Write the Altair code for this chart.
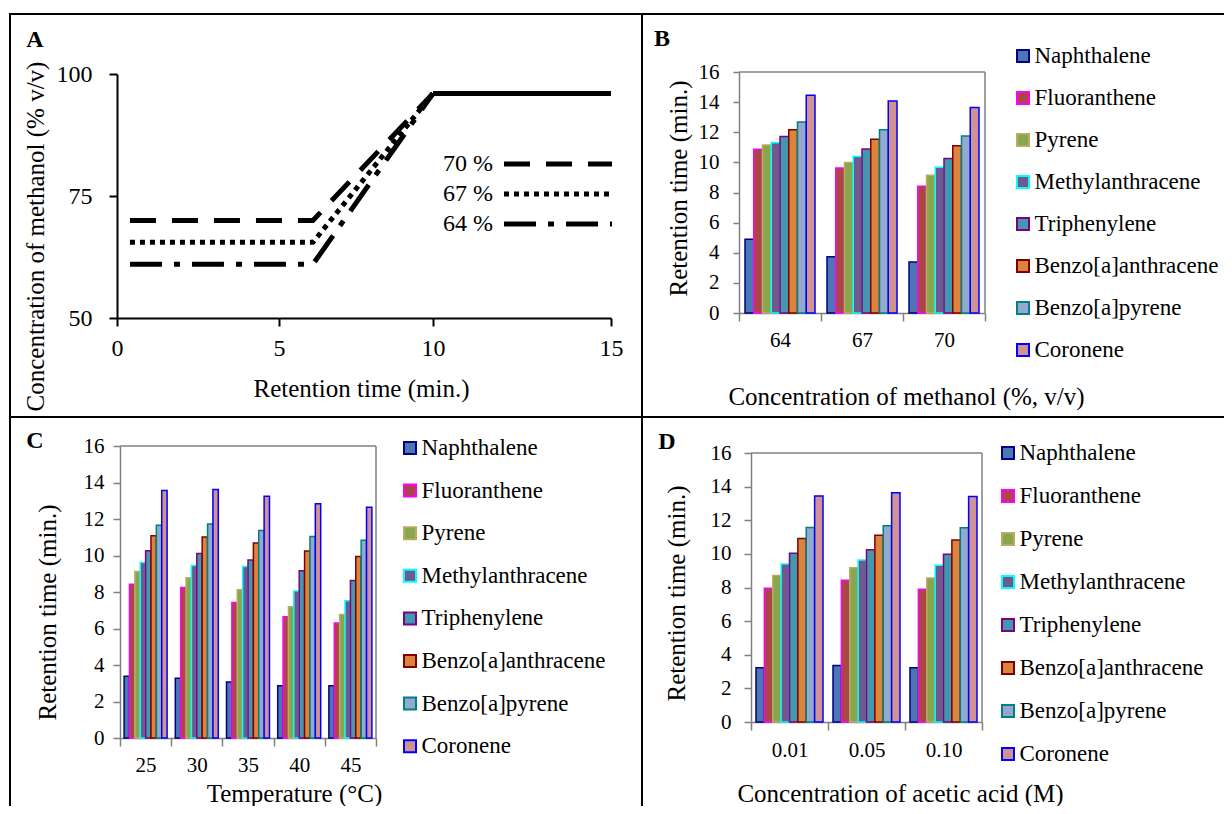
import altair as alt
import pandas as pd

FONT = "Liberation Serif"

# ---------------- Panel A : gradient programmes ----------------
series_a = ["70 %", "67 %", "64 %"]
time_70 = [0.4, 6.1, 10.0]
conc_70 = [70.0, 70.0, 96.0]
time_67 = [0.4, 6.1, 10.0]
conc_67 = [65.5, 65.5, 96.0]
time_64 = [0.4, 6.1, 10.0]
conc_64 = [61.0, 61.0, 96.0]
time_hold = [10.0, 15.0]
conc_hold = [96.0, 96.0]
a_x_ticks = [0, 5, 10, 15]
a_y_ticks = [50, 75, 100]

# ---------------- Panels B, C, D : retention times ----------------
compounds = ["Naphthalene", "Fluoranthene", "Pyrene", "Methylanthracene",
             "Triphenylene", "Benzo[a]anthracene", "Benzo[a]pyrene", "Coronene"]
fill_colors = ["#4A78B4", "#AA4643", "#89A54E", "#71588F",
               "#4198AF", "#DB843D", "#93A9CF", "#D19392"]
stroke_colors = ["#000080", "#FF00FF", "#B8AC60", "#00FFFF",
                 "#800080", "#800000", "#008080", "#0000FF"]
rt_ticks = [0, 2, 4, 6, 8, 10, 12, 14, 16]

methanol = ["64", "67", "70"]
b_64 = [4.89, 10.87, 11.16, 11.31, 11.71, 12.17, 12.68, 14.46]
b_67 = [3.74, 9.62, 9.99, 10.39, 10.89, 11.53, 12.17, 14.08]
b_70 = [3.39, 8.41, 9.15, 9.68, 10.26, 11.11, 11.75, 13.64]

temperature = ["25", "30", "35", "40", "45"]
c_25 = [3.38, 8.43, 9.12, 9.62, 10.26, 11.08, 11.66, 13.56]
c_30 = [3.27, 8.25, 8.78, 9.45, 10.11, 11.02, 11.72, 13.61]
c_35 = [3.07, 7.43, 8.12, 9.40, 9.76, 10.68, 11.37, 13.25]
c_40 = [2.86, 6.64, 7.19, 8.05, 9.16, 10.24, 11.04, 12.83]
c_45 = [2.86, 6.30, 6.77, 7.52, 8.63, 9.95, 10.84, 12.65]

acetic = ["0.01", "0.05", "0.10"]
d_001 = [3.22, 7.95, 8.71, 9.40, 10.04, 10.91, 11.57, 13.44]
d_005 = [3.36, 8.43, 9.17, 9.64, 10.24, 11.11, 11.67, 13.64]
d_010 = [3.22, 7.89, 8.57, 9.32, 9.98, 10.83, 11.55, 13.42]

ONE = alt.Data(values=[{}])


def deco(origin, box, lines):
    ox, oy = origin
    out = [alt.Chart(ONE).mark_rect(opacity=0).encode(
        x=alt.value(box[0] - ox), x2=alt.value(box[1] - ox),
        y=alt.value(box[2] - oy), y2=alt.value(box[3] - oy))]
    for x1, x2, y1, y2 in lines:
        out.append(alt.Chart(ONE).mark_rect(color="black").encode(
            x=alt.value(x1 - ox), x2=alt.value(x2 - ox),
            y=alt.value(y1 - oy), y2=alt.value(y2 - oy)))
    return out


def letter(ch, origin, pos):
    return alt.Chart(ONE).mark_text(
        font=FONT, fontSize=24, fontWeight="bold", color="black",
        align="center", baseline="middle").encode(
        x=alt.value(pos[0] - origin[0]), y=alt.value(pos[1] - origin[1]),
        text=alt.value(ch))


def bar_frame(conds, rows):
    recs = []
    for cond, vals in zip(conds, rows):
        for comp, v in zip(compounds, vals):
            recs.append({"cond": cond, "compound": comp, "rt": v})
    return pd.DataFrame(recs)


# ---------------- Panel A ----------------
A_O = (117, 72)
series_all = series_a + ["hold"]
line_df = pd.DataFrame({
    "t": time_70 + time_67 + time_64 + time_hold,
    "c": conc_70 + conc_67 + conc_64 + conc_hold,
    "s": ([series_a[0]] * len(time_70) + [series_a[1]] * len(time_67)
          + [series_a[2]] * len(time_64) + ["hold"] * len(time_hold)),
})

a_xscale = alt.Scale(domain=a_x_ticks, range=[0, 162, 316, 494], nice=False, zero=False)
a_yscale = alt.Scale(domain=[50, 100], range=[246, 2], nice=False, zero=False)

a_lines = alt.Chart(line_df).mark_line(color="black", strokeWidth=5).encode(
    x=alt.X("t:Q", scale=a_xscale, axis=alt.Axis(
        values=a_x_ticks, grid=False, labelFlush=False, labelOverlap=False,
        labelFont=FONT, labelFontSize=24, labelColor="black",
        labelBaseline="middle", labelPadding=22,
        domainColor="black", domainWidth=2, tickColor="black", tickWidth=2, tickSize=8,
        title="Retention time (min.)", titleFont=FONT, titleFontSize=25,
        titleFontWeight="normal", titleColor="black", titleX=244, titleY=70,
        titleAlign="center", titleBaseline="middle")),
    y=alt.Y("c:Q", scale=a_yscale, axis=alt.Axis(
        values=a_y_ticks, grid=False, labelFlush=False, labelOverlap=False,
        labelFont=FONT, labelFontSize=24, labelColor="black", labelPadding=17,
        domainColor="black", domainWidth=2, tickColor="black", tickWidth=2, tickSize=8,
        title="Concentration of  methanol (% v/v)", titleFont=FONT, titleFontSize=25,
        titleFontWeight="normal", titleColor="black", titleX=-82, titleY=164,
        titleAngle=270, titleAlign="center", titleBaseline="middle")),
    strokeDash=alt.StrokeDash("s:N", sort=series_all, scale=alt.Scale(
        domain=series_all, range=[[26, 16], [5, 5], [32, 12, 6, 12], [1, 0]]),
        legend=alt.Legend(
            title=None, orient="none", legendX=425, legendY=76, direction="vertical",
            values=series_a,
            symbolType="M-4,0H4", symbolSize=729, symbolStrokeWidth=5,
            symbolStrokeColor="black", labelFont=FONT, labelFontSize=24,
            labelColor="black", labelAlign="right", labelOffset={"expr": "-81"},
            rowPadding=2, padding=0)),
)

A_lines = [(9, 11, 13, 417), (9, 642, 13, 15), (641, 642, 13, 417), (9, 642, 416, 417)]
panel_a = alt.layer(
    *deco(A_O, (8, 642, 8, 417), A_lines),
    letter("A", A_O, (35, 40)),
    a_lines,
).properties(width=494, height=246)


# ---------------- bar panels ----------------
def bar_panel(df, conds, origin, box, lines, width, height, xrange, yrange,
              outer_pad, let, let_pos, xtitle, xt_pos, yt_pos, leg_pos, row_pad,
              xlab_pad, ylab_pad, ytick, yoffset=0):
    x_sc = dict(paddingInner=0, paddingOuter=0)
    if xrange is not None:
        x_sc["range"] = xrange
    y_sc = dict(domain=[0, 16], nice=False, zero=True)
    if yrange is not None:
        y_sc["range"] = yrange
    leg = alt.Legend(
        title=None, orient="none", legendX=leg_pos[0], legendY=leg_pos[1],
        direction="vertical", symbolType="square", symbolSize=144, symbolStrokeWidth=2,
        labelFont=FONT, labelFontSize=23, labelColor="black", labelOffset=0,
        labelLimit=400, clipHeight=23, rowPadding=row_pad, padding=0)
    bars = alt.Chart(df).mark_bar(strokeWidth=1.5).encode(
        x=alt.X("cond:N", sort=conds, scale=alt.Scale(**x_sc), axis=alt.Axis(
            tickBand="extent", labelAngle=0, grid=False,
            labelFont=FONT, labelFontSize=21, labelColor="black",
            labelBaseline="middle", labelPadding=xlab_pad,
            domainColor="#808080", domainWidth=1.5, tickColor="#808080",
            tickWidth=1.5, tickSize=8,
            title=xtitle, titleFont=FONT, titleFontSize=25, titleFontWeight="normal",
            titleColor="black", titleX=xt_pos[0], titleY=xt_pos[1],
            titleAlign="center", titleBaseline="middle")),
        xOffset=alt.XOffset("compound:N", sort=compounds,
                            scale=alt.Scale(paddingInner=0, paddingOuter=outer_pad)),
        y=alt.Y("rt:Q", scale=alt.Scale(**y_sc), axis=alt.Axis(
            values=rt_ticks, grid=False, labelFlush=False, labelOverlap=False,
            labelFont=FONT, labelFontSize=21, labelColor="black", labelPadding=ylab_pad,
            domainColor="#808080", domainWidth=1.5, tickColor="#808080",
            tickWidth=1.5, tickSize=ytick, offset=yoffset,
            title="Retention time (min.)", titleFont=FONT, titleFontSize=25,
            titleFontWeight="normal", titleColor="black",
            titleX=yt_pos[0], titleY=yt_pos[1], titleAngle=270,
            titleAlign="center", titleBaseline="middle")),
        fill=alt.Fill("compound:N", sort=compounds,
                      scale=alt.Scale(domain=compounds, range=fill_colors), legend=leg),
        stroke=alt.Stroke("compound:N", sort=compounds,
                          scale=alt.Scale(domain=compounds, range=stroke_colors), legend=leg),
    )
    x0 = xrange[0] if xrange is not None else 0
    x1 = xrange[1] if xrange is not None else width
    y0 = yrange[1] if yrange is not None else 0
    frame_top = alt.Chart(ONE).mark_rule(color="#808080", strokeWidth=1.5).encode(
        y=alt.value(y0), x=alt.value(x0), x2=alt.value(x1))
    frame_right = alt.Chart(ONE).mark_rule(color="#808080", strokeWidth=1.5).encode(
        x=alt.value(x1), y=alt.value(y0), y2=alt.value(height))
    return alt.layer(
        *deco(origin, box, lines),
        letter(let, origin, let_pos),
        frame_top, frame_right, bars,
    ).properties(width=width, height=height)


B_O = (739, 72)
panel_b = bar_panel(
    bar_frame(methanol, [b_64, b_67, b_70]), methanol, B_O, (642, 1224, 8, 417),
    [(642, 1224, 13, 15), (642, 643, 13, 417), (642, 1224, 416, 417)],
    246, 241, None, None, 0.686, "B", (662, 39),
    "Concentration of methanol (%, v/v)", (167, 83), (-61, 116),
    (272.5, -27.5), 18, 19, 14, 6)

C_O = (117, 446)
panel_c = bar_panel(
    bar_frame(temperature, [c_25, c_30, c_35, c_40, c_45]), temperature, C_O,
    (8, 642, 417, 806),
    [(9, 11, 417, 806), (641, 642, 417, 806), (9, 642, 417, 418)],
    259, 292, [3, 259], None, 0.763, "C", (35, 441),
    "Temperature (°C)", (177, 55), (-73, 166),
    (281.5, -9.5), 18.6, 19, 9, 7, yoffset=-3)

D_O = (751, 446)
panel_d = bar_panel(
    bar_frame(acetic, [d_001, d_005, d_010]), acetic, D_O, (642, 1224, 417, 806),
    [(642, 643, 417, 806), (642, 1224, 417, 418)],
    231, 276, None, [276, 7], 0.597, "D", (667, 442),
    "Concentration of acetic acid  (M)", (149, 71), (-75, 147),
    (245.5, -4.5), 19, 20, 13, 7)

RES = dict(x="independent", y="independent", xOffset="independent",
           fill="independent", stroke="independent", strokeDash="independent")
LEG = dict(fill="independent", stroke="independent", strokeDash="independent")

row1 = alt.hconcat(panel_a, panel_b, spacing=0).resolve_scale(**RES).resolve_legend(**LEG)
row2 = alt.hconcat(panel_c, panel_d, spacing=0).resolve_scale(**RES).resolve_legend(**LEG)

chart = alt.vconcat(row1, row2, spacing=0).resolve_scale(**RES).resolve_legend(**LEG).properties(
    padding=0, background="white"
).configure(font=FONT).configure_legend(
    labelFont=FONT, labelFontSize=23, labelColor="black", labelLimit=400
).configure_view(stroke=None)

chart.save("out.html", embed_options={"renderer": "svg", "actions": False})
